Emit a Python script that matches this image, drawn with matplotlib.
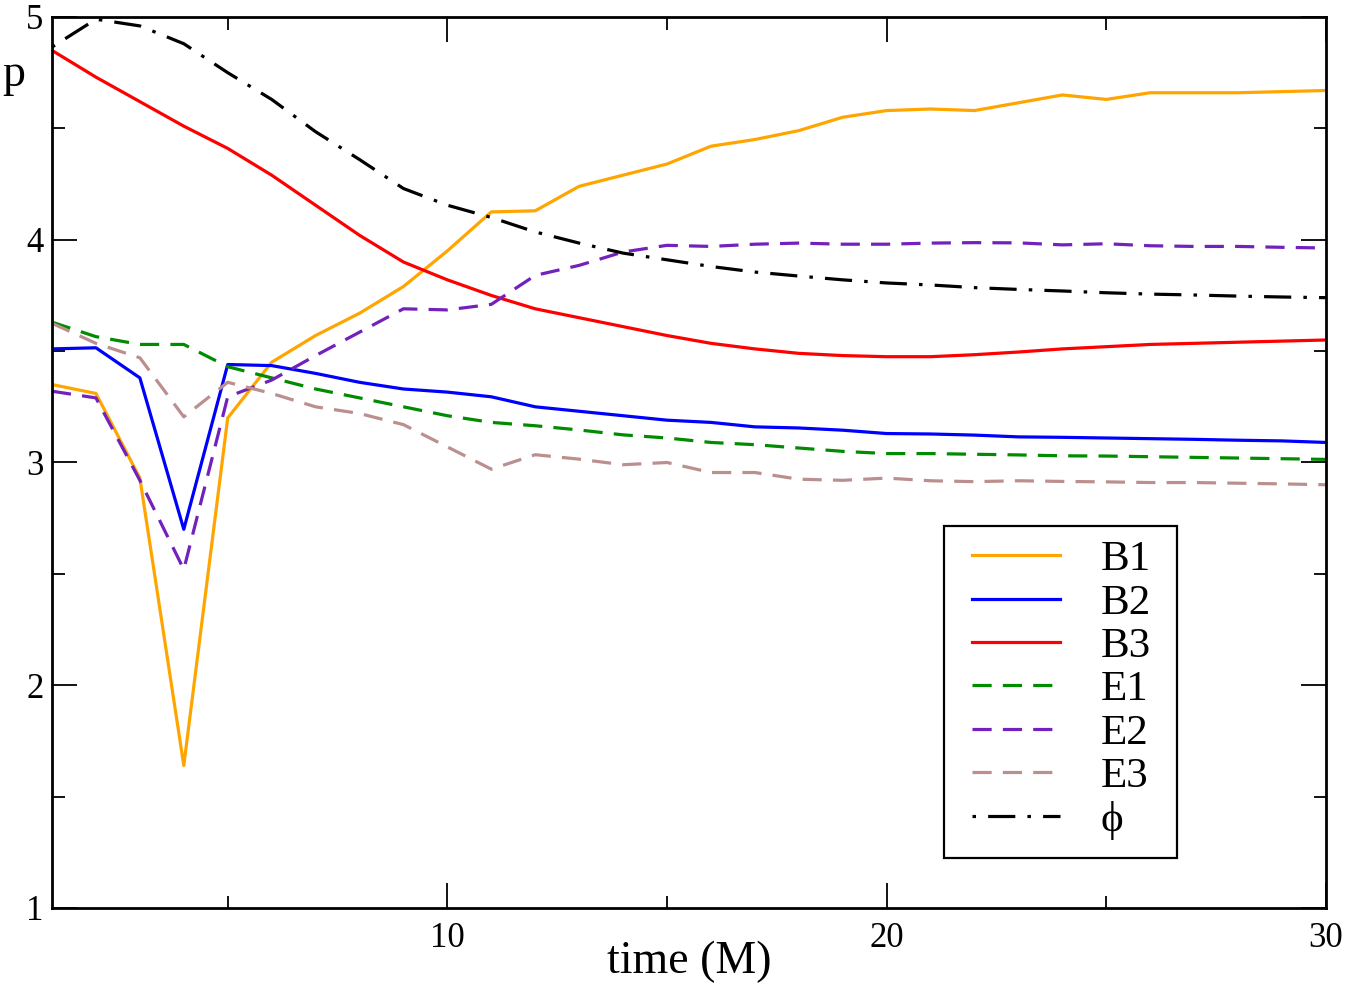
import matplotlib
matplotlib.use("Agg")
import matplotlib.pyplot as plt
from matplotlib.ticker import MultipleLocator
from matplotlib.patches import Rectangle

plt.rcParams['font.family'] = ['Liberation Serif', 'DejaVu Serif']

t = list(range(1, 31))

B1 = [3.35, 3.31, 2.93, 1.64, 3.20, 3.45, 3.57, 3.67, 3.79, 3.95,
      4.125, 4.13, 4.24, 4.29, 4.34, 4.42, 4.45, 4.49, 4.55, 4.58,
      4.587, 4.58, 4.615, 4.65, 4.63, 4.66, 4.66, 4.66, 4.665, 4.67]
B2 = [3.51, 3.515, 3.38, 2.70, 3.44, 3.435, 3.40, 3.36, 3.33, 3.316,
      3.295, 3.25, 3.23, 3.21, 3.19, 3.18, 3.16, 3.155, 3.145, 3.13,
      3.128, 3.123, 3.115, 3.113, 3.11, 3.107, 3.104, 3.10, 3.097, 3.09]
B3 = [4.85, 4.73, 4.62, 4.51, 4.41, 4.29, 4.155, 4.02, 3.90, 3.82,
      3.75, 3.69, 3.65, 3.61, 3.57, 3.535, 3.51, 3.49, 3.48, 3.475,
      3.475, 3.484, 3.496, 3.51, 3.52, 3.53, 3.535, 3.54, 3.545, 3.55]
E1 = [3.63, 3.565, 3.53, 3.53, 3.43, 3.38, 3.33, 3.29, 3.25, 3.21,
      3.18, 3.165, 3.146, 3.124, 3.11, 3.09, 3.08, 3.065, 3.05, 3.04,
      3.04, 3.037, 3.034, 3.03, 3.029, 3.026, 3.023, 3.02, 3.017, 3.014]
E2 = [3.32, 3.29, 2.92, 2.52, 3.295, 3.37, 3.48, 3.585, 3.69, 3.685,
      3.71, 3.84, 3.885, 3.945, 3.975, 3.97, 3.98, 3.985, 3.98, 3.98,
      3.985, 3.987, 3.986, 3.977, 3.982, 3.973, 3.97, 3.97, 3.966, 3.963]
E3 = [3.625, 3.535, 3.47, 3.205, 3.36, 3.31, 3.25, 3.22, 3.17, 3.07,
      2.97, 3.035, 3.015, 2.99, 3.00, 2.955, 2.955, 2.925, 2.92, 2.93,
      2.918, 2.914, 2.918, 2.915, 2.913, 2.91, 2.91, 2.907, 2.904, 2.90]
phi = [4.865, 4.99, 4.96, 4.88, 4.75, 4.63, 4.485, 4.36, 4.23, 4.155,
       4.10, 4.035, 3.985, 3.94, 3.91, 3.88, 3.855, 3.837, 3.82, 3.806,
       3.797, 3.785, 3.777, 3.77, 3.762, 3.756, 3.752, 3.747, 3.743, 3.74]

fig = plt.figure(figsize=(13.48, 9.84), dpi=100)
ax = fig.add_axes([52/1348, 1 - 908/984, 1274/1348, 891/984])

lw = 2.3
dash = (0, (6.0, 3.5))
dashdot = (0, (1.1, 3.8, 8.5, 3.8))

ax.plot(t, B1, color='#FFA500', lw=lw, label='B1')
ax.plot(t, B2, color='#0000FF', lw=lw, label='B2')
ax.plot(t, B3, color='#FF0000', lw=lw, label='B3')
ax.plot(t, E1, color='#008B00', lw=lw, ls=dash, label='E1')
ax.plot(t, E2, color='#7221BC', lw=lw, ls=dash, label='E2')
ax.plot(t, E3, color='#BC8F8F', lw=lw, ls=dash, label='E3')
ax.plot(t, phi, color='black', lw=lw, ls=dashdot, label='ϕ')

ax.set_xlim(1, 30)
ax.set_ylim(1, 5)
ax.xaxis.set_major_locator(MultipleLocator(10))
ax.xaxis.set_minor_locator(MultipleLocator(5))
ax.yaxis.set_major_locator(MultipleLocator(1))
ax.yaxis.set_minor_locator(MultipleLocator(0.5))

ax.tick_params(which='both', direction='in', top=True, right=True, width=1.3)
ax.tick_params(which='major', length=18)
ax.tick_params(which='minor', length=9)
ax.tick_params(axis='x', labelsize=25, pad=10)
ax.tick_params(axis='y', labelsize=25, pad=6)
for s in ax.spines.values():
    s.set_linewidth(2)

ax.set_xlabel('time (M)', fontsize=33)
ax.xaxis.set_label_coords(0.5, -0.036)
ax.text(-0.03, 0.935, 'p', transform=ax.transAxes, fontsize=33,
        ha='center', va='center')

# legend box drawn separately so the entries can sit where they do in the original
ax.add_patch(Rectangle((0.700, 0.056), 0.183, 0.373, transform=ax.transAxes,
                       fill=True, facecolor='white', edgecolor='black',
                       lw=1.6, zorder=4))
leg = ax.legend(loc='upper left', bbox_to_anchor=(0.722, 0.413),
                borderaxespad=0, borderpad=0, fontsize=31, handlelength=2.05,
                handletextpad=0.95, labelspacing=0.1, frameon=False)
leg.set_zorder(5)

fig.savefig('out.png', dpi=100)
